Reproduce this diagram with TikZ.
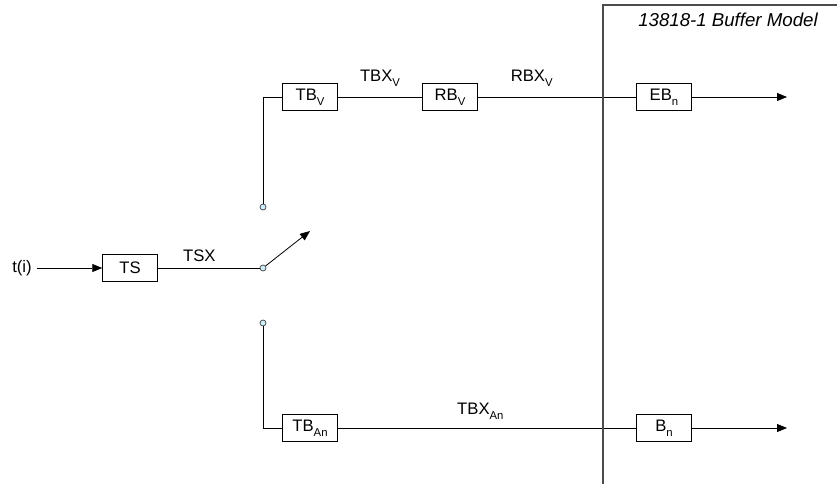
\documentclass[tikz,border=0pt]{standalone}
\usepackage{fontspec}
\setmainfont{Liberation Sans}
\usetikzlibrary{arrows.meta, positioning}
\tikzstyle{every node}=[font=\fontsize{12.5}{15}\selectfont]
\tikzstyle{buf}=[draw, minimum width=41pt, minimum height=20pt, inner sep=0pt]
\tikzstyle{contact}=[draw=black!70, circle, fill=cyan!20, minimum size=4.5pt, inner sep=0pt]
\tikzstyle{flow}=[-{Triangle[length=7.5pt, width=6pt]}]
\newcommand{\lo}[1]{\raisebox{-0.55ex}{\fontsize{8.5}{9}\selectfont #1}}

\begin{document}
\begin{tikzpicture}[x=0.75pt, y=-0.75pt, line width=0.6pt]
  \useasboundingbox (0,0) rectangle (837,484);
  % input side
  \node (ti) at (22,268) {t(i)};
  \node[buf] (TS) at (130,268) {TS};
  \node[contact] (cmid) at (263,268) {};
  \node[contact] (ctop) at (263,207) {};
  \node[contact] (cbot) at (263,323) {};
  \coordinate (swtip) at (310,231);
  \draw[flow] (ti) -- (TS);
  \draw (TS) -- node (tsx) [above=1pt, xshift=-7pt] {TSX} (cmid);
  \draw[flow] (cmid) -- (swtip);
  % video branch
  \node[buf] (TBV) at (310,97) {TB\lo{V}};
  \node[buf] (RBV) at (450,97) {RB\lo{V}};
  \node[buf] (EBn) at (664,97) {EB\lo{n}};
  \coordinate (outV) at (787,97);
  \draw (ctop) |- (TBV);
  \draw (TBV) -- node (tbxv) [above=4pt] {TBX\lo{V}} (RBV);
  \draw (RBV) -- node (rbxv) [above=4pt, xshift=-19pt] {RBX\lo{V}} (EBn);
  \draw[flow] (EBn) -- (outV);
  % audio branch
  \node[buf] (TBA) at (310,428) {TB\lo{An}};
  \node[buf] (Bn) at (664,428) {B\lo{n}};
  \coordinate (outA) at (787,428);
  \draw (cbot) |- (TBA);
  \draw (TBA) -- node (tbxa) [above=3pt, xshift=-5pt] {TBX\lo{An}} (Bn);
  \draw[flow] (Bn) -- (outA);
  % buffer model frame
  \coordinate (frbot) at (603,484);
  \coordinate (frtop) at (603,5);
  \coordinate (frright) at (837,5);
  \draw[black!70, line width=0.9pt] (frbot) -- (frtop) -- (frright);
  \node[font=\fontsize{14}{17}\selectfont\itshape] (model) at (728,20) {13818-1 Buffer Model};
\end{tikzpicture}
\end{document}
